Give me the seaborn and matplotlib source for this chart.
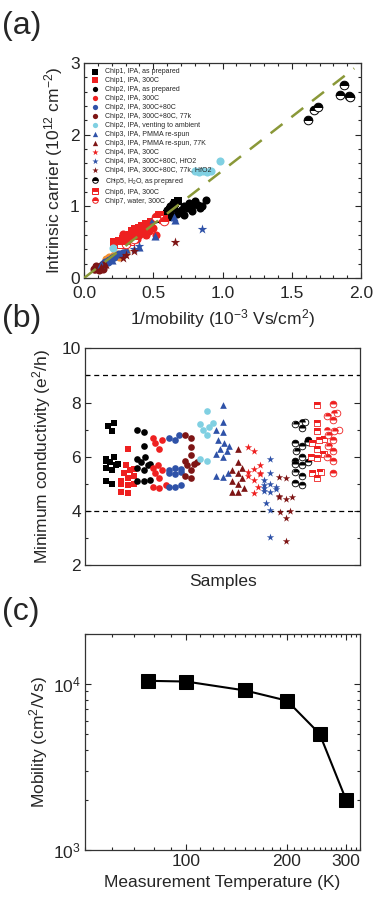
import pandas as pd
import matplotlib
matplotlib.use("Agg")
import matplotlib.pyplot as plt
from matplotlib.markers import MarkerStyle
from matplotlib.ticker import MultipleLocator, FixedLocator, NullFormatter, NullLocator
import seaborn as sns

sns.set_style("ticks")
plt.rcParams['font.family'] = ['Liberation Sans', 'DejaVu Sans']
plt.rcParams['mathtext.default'] = 'regular'
plt.rcParams['xtick.direction'] = 'in'
plt.rcParams['ytick.direction'] = 'in'

BLACK = '#000000'
RED = '#ee2020'
BLUE = '#2f52a8'
DRED = '#7e1515'
LBLUE = '#80d0e2'
ORANGE = '#f39030'
OLIVE = '#8a9838'

# ---- (a) intrinsic carrier vs 1/mobility ----
labels_a = ["Chip1, IPA, as prepared", "Chip1, IPA, 300C", "Chip2, IPA, as prepared",
            "Chip2, IPA, 300C", "Chip2, IPA, 300C+80C", "Chip2, IPA, 300C+80C, 77k",
            "Chip2, IPA, venting to ambient", "Chip3, IPA, PMMA re-spun",
            "Chip3, IPA, PMMA re-spun, 77K", "Chip4, IPA, 300C", "Chip4, IPA, 300C+80C, HfO2",
            "Chip4, IPA, 300C+80C, 77k, HfO2", "Chip5, H$_2$O, as prepared",
            "Chip6, IPA, 300C", "Chip7, water, 300C"]
colors_a = [BLACK, RED, BLACK, RED, BLUE, DRED, LBLUE, BLUE, DRED, RED, BLUE, DRED, BLACK, RED, RED]
markers_a = ['s', 's', 'o', 'o', 'o', 'o', 'o', '^', '^', '*', '*', '*', 'o', 's', 'o']
half_a = [False] * 12 + [True, True, True]

x_a = [
    [0.55, 0.58, 0.60, 0.62, 0.65, 0.66, 0.68, 0.63],
    [0.22, 0.25, 0.28, 0.30, 0.33, 0.35, 0.37, 0.40, 0.42, 0.45, 0.48, 0.38, 0.43],
    [0.60, 0.62, 0.64, 0.67, 0.70, 0.72, 0.74, 0.76, 0.78, 0.80, 0.82, 0.84, 0.78, 0.72, 0.88, 0.85],
    [0.25, 0.30, 0.35, 0.40, 0.45, 0.50, 0.52, 0.28, 0.32, 0.47, 0.38],
    [0.15, 0.18, 0.20, 0.22, 0.25, 0.14, 0.28, 0.17],
    [0.08, 0.10, 0.12, 0.09, 0.11, 0.13, 0.07, 0.14],
    [0.98, 0.80, 0.83, 0.86, 0.89, 0.92, 0.21],
    [0.51, 0.50, 0.66, 0.40, 0.65, 0.30, 0.12, 0.20],
    [0.12, 0.15],
    [0.45, 0.35],
    [0.85, 0.40, 0.36],
    [0.66, 0.30, 0.36, 0.28],
    [1.62, 1.66, 1.69, 1.85, 1.88, 1.91, 1.92],
    [0.54, 0.57, 0.27, 0.33],
    [0.52, 0.58, 0.30, 0.36],
]
y_a = [
    [0.82, 0.86, 0.90, 0.95, 0.98, 1.05, 1.08, 0.85],
    [0.50, 0.52, 0.55, 0.58, 0.60, 0.65, 0.68, 0.70, 0.72, 0.75, 0.78, 0.62, 0.65],
    [0.95, 1.00, 1.05, 0.90, 0.95, 1.00, 0.98, 1.05, 1.00, 1.08, 1.02, 0.98, 0.93, 0.88, 1.09, 1.00],
    [0.50, 0.55, 0.58, 0.60, 0.60, 0.70, 0.60, 0.62, 0.50, 0.65, 0.55],
    [0.22, 0.25, 0.28, 0.30, 0.33, 0.20, 0.35, 0.23],
    [0.12, 0.14, 0.15, 0.17, 0.11, 0.18, 0.13, 0.13],
    [1.63, 1.49, 1.48, 1.49, 1.48, 1.49, 0.42],
    [0.59, 0.83, 0.81, 0.43, 0.85, 0.40, 0.20, 0.25],
    [0.16, 0.20],
    [0.60, 0.55],
    [0.68, 0.45, 0.40],
    [0.51, 0.32, 0.38, 0.28],
    [2.21, 2.35, 2.38, 2.56, 2.70, 2.54, 2.52],
    [0.88, 0.82, 0.47, 0.52],
    [0.85, 0.80, 0.48, 0.55],
]
# orange points (no legend entry)
x_orange = [0.16, 0.18, 0.20, 0.22, 0.24, 0.26, 0.28, 0.30, 0.19, 0.25]
y_orange = [0.27, 0.30, 0.30, 0.32, 0.33, 0.32, 0.35, 0.36, 0.28, 0.30]
fit_x = [0.0, 1.95]
fit_slope = 1.5

# ---- (b) minimum conductivity per sample ----
samples_b = ["c1p", "c1a", "c2p", "c2a", "c2b", "c2c", "c2v", "c3", "c3c",
             "c4a", "c4b", "c4c", "c5", "c6", "c7"]
sigma_b = [
    [7.25, 7.15, 6.95, 6.0, 5.9, 5.85, 5.8, 5.75, 5.7, 5.6, 5.5, 5.1, 5.0],
    [6.3, 5.7, 5.55, 5.5, 5.4, 5.3, 5.2, 5.1, 5.0, 5.0, 4.95, 4.7, 4.65],
    [7.0, 6.9, 6.4, 6.0, 5.9, 5.8, 5.75, 5.7, 5.6, 5.5, 5.15, 5.1, 5.1],
    [6.7, 6.6, 6.5, 6.3, 5.7, 5.6, 5.5, 5.4, 5.2, 4.95, 4.9, 4.85],
    [6.8, 6.7, 6.6, 5.6, 5.55, 5.5, 5.45, 5.4, 5.35, 4.95, 4.9, 4.9],
    [6.8, 6.7, 6.35, 6.05, 5.85, 5.8, 5.75, 5.7, 5.5, 5.3, 5.2],
    [7.7, 7.25, 7.2, 7.1, 7.0, 6.8, 5.9, 5.85],
    [7.9, 7.3, 7.0, 6.9, 6.6, 6.5, 6.4, 6.3, 6.2, 6.1, 6.0, 5.4, 5.3, 5.25],
    [6.3, 5.8, 5.6, 5.5, 5.4, 5.2, 5.1, 5.0, 4.85, 4.7, 4.7],
    [6.35, 6.2, 5.7, 5.55, 5.45, 5.4, 5.35, 5.3, 5.15, 4.9, 4.65],
    [5.9, 5.4, 5.15, 5.0, 4.95, 4.9, 4.85, 4.8, 4.75, 4.7, 4.3, 4.05, 3.05],
    [5.25, 5.2, 4.55, 4.5, 4.5, 4.45, 4.0, 3.95, 3.75, 2.9],
    [7.3, 7.2, 7.05, 6.6, 6.55, 6.5, 6.4, 6.2, 6.0, 5.85, 5.8, 5.75, 5.7, 5.45, 5.3, 5.05, 4.95],
    [7.9, 7.25, 6.95, 6.65, 6.6, 6.5, 6.3, 6.1, 6.0, 5.95, 5.45, 5.4, 5.2],
    [7.95, 7.6, 7.5, 7.35, 7.0, 6.95, 6.8, 6.6, 6.4, 6.2, 6.0, 5.85, 5.4],
]
bounds_b = [9, 4]

# ---- (c) mobility vs temperature ----
temp_c = [77, 100, 150, 200, 250, 300]
mob_c = [10400, 10300, 9100, 7900, 5000, 2000]

fig = plt.figure(figsize=(3.75, 9), dpi=100)
axa = fig.add_axes([0.224, 0.691, 0.739, 0.239])
axb = fig.add_axes([0.227, 0.372, 0.733, 0.241])
axc = fig.add_axes([0.227, 0.0556, 0.733, 0.2404])

# (a)
sns.scatterplot(x=x_orange, y=y_orange, color=ORANGE, marker='o', s=34, linewidth=0, ax=axa, zorder=2)
for xs, ys, c, m, h, lab in zip(x_a, y_a, colors_a, markers_a, half_a, labels_a):
    if h:
        axa.plot(xs, ys, ls='none', marker=m, ms=6.2, mfc=c, mec=c, mew=0.7,
                 fillstyle='top', markerfacecoloralt='white', label=lab, zorder=3)
    else:
        sns.scatterplot(x=xs, y=ys, color=c, marker=m, s=52 if m == '*' else 34,
                        linewidth=0, ax=axa, label=lab, zorder=3, legend=False)
        axa.collections[-1].set_label(lab)
axa.plot(fit_x, [v * fit_slope for v in fit_x], ls=(0, (6, 4.5)), color=OLIVE, lw=1.8, zorder=4)
axa.set_xlim(0, 2.0)
axa.set_ylim(0, 3)
axa.xaxis.set_major_locator(MultipleLocator(0.5))
axa.xaxis.set_minor_locator(MultipleLocator(0.1))
axa.yaxis.set_major_locator(MultipleLocator(1))
axa.yaxis.set_minor_locator(MultipleLocator(0.2))
axa.xaxis.set_major_formatter(matplotlib.ticker.FormatStrFormatter('%.1f'))
axa.set_xlabel("1/mobility (10$^{-3}$ Vs/cm$^2$)", fontsize=12.5, labelpad=4)
axa.set_ylabel("Intrinsic carrier (10$^{12}$ cm$^{-2}$)", fontsize=12.5, labelpad=4)
axa.legend(loc='upper left', bbox_to_anchor=(0.022, 0.975), borderaxespad=0, borderpad=0,
           frameon=False, fontsize=5.0, labelspacing=0.28, handletextpad=0.9,
           handlelength=1.3, markerscale=0.65)

# (b)
for name, vals, c, m, h in zip(samples_b, sigma_b, colors_a, markers_a, half_a):
    d = pd.DataFrame({'sample': name, 'sigma': vals})
    sz = 5.6 if m == '*' else 4.8
    if h:
        sns.swarmplot(data=d, x='sample', y='sigma', order=samples_b, ax=axb, color='white',
                      edgecolor=c, linewidth=0.6, marker=m, size=sz, warn_thresh=1)
        sns.swarmplot(data=d, x='sample', y='sigma', order=samples_b, ax=axb, color=c,
                      marker=MarkerStyle(m, fillstyle='top'), linewidth=0, size=sz, warn_thresh=1)
    else:
        sns.swarmplot(data=d, x='sample', y='sigma', order=samples_b, ax=axb, color=c,
                      marker=m, linewidth=0, size=sz, warn_thresh=1)
for b in bounds_b:
    axb.axhline(b, color='k', ls=(0, (4, 3)), lw=0.9)
axb.set_xlim(-1.7, 15.7)
axb.set_ylim(2, 10)
axb.xaxis.set_major_locator(NullLocator())
axb.yaxis.set_major_locator(MultipleLocator(2))
axb.yaxis.set_minor_locator(MultipleLocator(1))
axb.set_xlabel("Samples", fontsize=12.5, labelpad=6)
axb.set_ylabel("Minimum conductivity (e$^2$/h)", fontsize=12.5, labelpad=6)

# (c)
sns.lineplot(x=temp_c, y=mob_c, color='k', marker='s', markersize=9.5, mec='k', lw=1.5, ax=axc)
axc.set_xscale('log')
axc.set_yscale('log')
axc.set_xlim(50, 330)
axc.set_ylim(1e3, 2e4)
axc.xaxis.set_major_locator(FixedLocator([100, 200, 300]))
axc.xaxis.set_major_formatter(matplotlib.ticker.FixedFormatter(['100', '200', '300']))
axc.xaxis.set_minor_locator(MultipleLocator(10))
axc.xaxis.set_minor_formatter(NullFormatter())
axc.set_xlabel("Measurement Temperature (K)", fontsize=12.5, labelpad=4)
axc.set_ylabel("Mobility (cm$^2$/Vs)", fontsize=12.5, labelpad=2)

for ax in (axa, axb, axc):
    for s in ax.spines.values():
        s.set_linewidth(0.9)
        s.set_color('#333333')
    ax.tick_params(which='both', top=True, right=True, width=0.8, labelsize=12.5)
    ax.tick_params(which='major', length=4, pad=3)
    ax.tick_params(which='minor', length=2.5)
axb.tick_params(which='both', top=False, bottom=False)
axa.tick_params(axis='x', which='major', pad=6)

fig.text(0.005, 0.988, "(a)", fontsize=23, va='top')
fig.text(0.005, 0.662, "(b)", fontsize=23, va='top')
fig.text(0.005, 0.337, "(c)", fontsize=23, va='top')

fig.savefig("out.png", dpi=100)
